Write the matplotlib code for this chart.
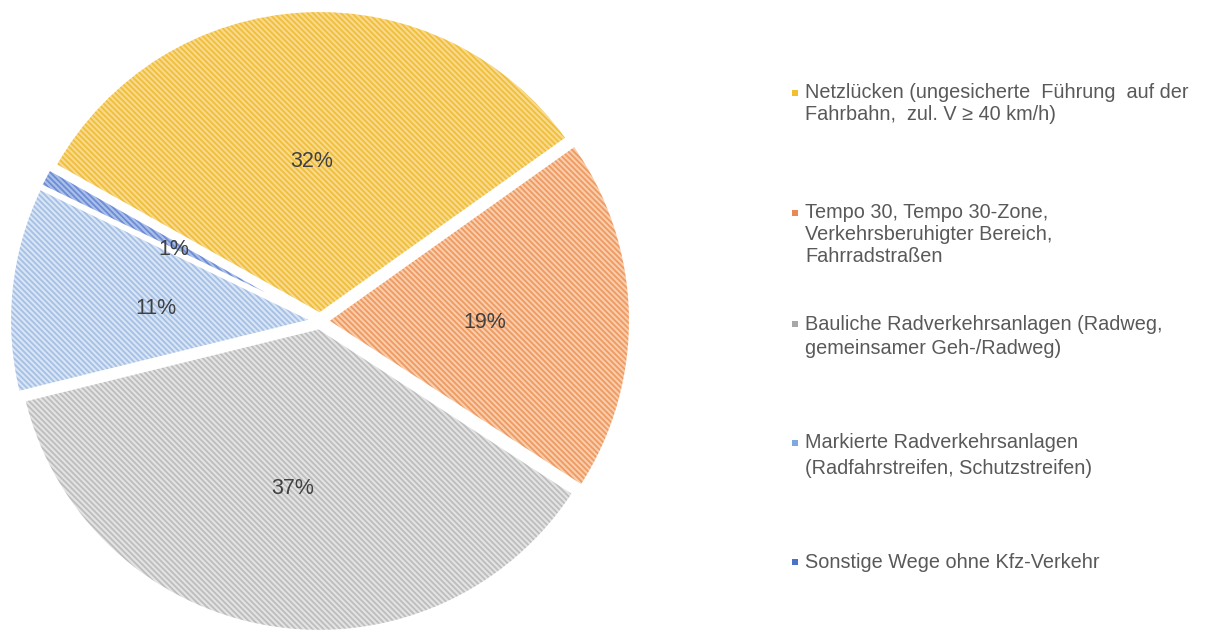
import matplotlib
matplotlib.use("Agg")
import matplotlib.pyplot as plt
from matplotlib.patches import Wedge, Rectangle
from matplotlib.transforms import ScaledTranslation

plt.rcParams['font.family'] = ['Liberation Sans', 'DejaVu Sans']
plt.rcParams['hatch.linewidth'] = 1.3

# Shares of the cycling network by type of route (percent)
categories = [
    ["Netzlücken (ungesicherte  Führung  auf der", "Fahrbahn,  zul. V \u2265 40 km/h)"],
    ["Tempo 30, Tempo 30-Zone,", "Verkehrsberuhigter Bereich,", "Fahrradstraßen"],
    ["Bauliche Radverkehrsanlagen (Radweg,", "gemeinsamer Geh-/Radweg)"],
    ["Markierte Radverkehrsanlagen", "(Radfahrstreifen, Schutzstreifen)"],
    ["Sonstige Wege ohne Kfz-Verkehr"],
]
shares = [32, 19, 37, 11, 1]

face_colors = ['#F9DA8C', '#F9CDAA', '#E3E3E3', '#D8E5F5', '#AABFEA']
hatch_colors = ['#F0BE3A', '#EE9A62', '#BDBDBD', '#A6C0E5', '#6C8CD4']
marker_colors = ['#F2BF2E', '#E98A55', '#A8A8A8', '#7EA9DC', '#4B72C6']

W, H = 1216, 632
fig = plt.figure(figsize=(W / 100, H / 100), dpi=100)
fig.patch.set_facecolor('white')

# pie centre and radius in pixels
cx, cy, rad = 320, 311, 304
half = 320
ax = fig.add_axes([(cx - half) / W, (cy - half) / H, 2 * half / W, 2 * half / H])

wedges, texts, autotexts = ax.pie(
    shares,
    startangle=150.6,
    counterclock=False,
    explode=[0.022] * len(shares),
    colors=face_colors,
    autopct='%1.0f%%',
    pctdistance=0.52,
    textprops=dict(color='#404040', fontsize=15.5),
    wedgeprops=dict(linewidth=0),
)
for w, hc in zip(wedges, hatch_colors):
    w.set_edgecolor(hc)
    w.set_linewidth(0)
    w.set_hatch('\\\\\\\\\\\\')
    w.set_clip_on(False)
    # thin white rim around each slice
    rim = Wedge(w.center, w.r, w.theta1, w.theta2, fill=False,
                edgecolor='white', linewidth=2.5, clip_on=False)
    ax.add_patch(rim)

# percentage labels sit slightly below their nominal anchor
shift = ScaledTranslation(0, -5 / 100, fig.dpi_scale_trans)
for t in autotexts:
    t.set_transform(t.get_transform() + shift)

lim = half / rad
ax.set_xlim(-lim, lim)
ax.set_ylim(-lim, lim)
ax.set_axis_off()

# legend drawn at the right side
line_y = [[93, 114], [213, 234, 256], [324, 349], [443, 468], [562]]
text_x = 805
for lines, ys, mc in zip(categories, line_y, marker_colors):
    y0 = ys[0]
    fig.add_artist(Rectangle(((text_x - 13) / W, (H - y0 - 3) / H), 6 / W, 6 / H,
                             transform=fig.transFigure, facecolor=mc,
                             edgecolor='none'))
    for txt, y in zip(lines, ys):
        fig.text(text_x / W, (H - y) / H, txt, fontsize=14.3, color='#595959',
                 ha='left', va='center')

fig.savefig('out.png', dpi=100, facecolor='white')
